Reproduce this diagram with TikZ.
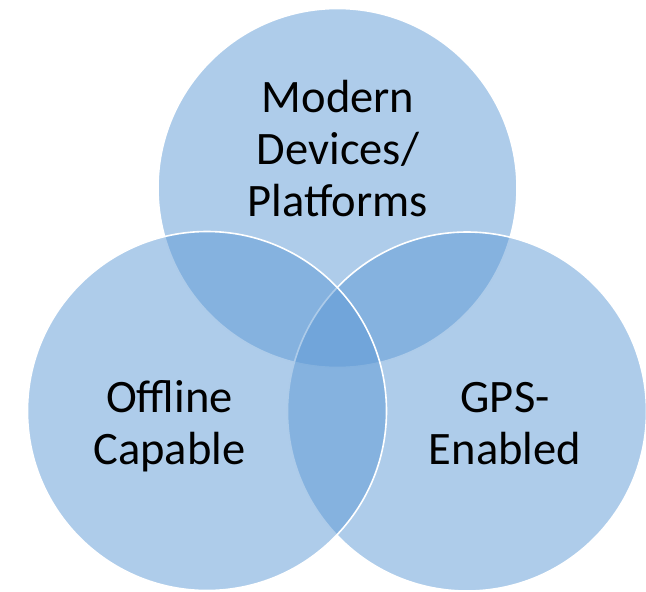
\documentclass[tikz,border=0pt]{standalone}
\usepackage{fontspec}
\setmainfont{Carlito}
\definecolor{vennblue}{RGB}{93,153,213}
\tikzset{
  venn/.style={circle, fill=vennblue, fill opacity=0.5, draw=white, draw opacity=1, line width=1.6pt, inner sep=0pt, minimum size=359pt},
  lbl/.style={align=center, text=black, font=\fontsize{46.5pt}{52pt}\selectfont, inner sep=0pt, anchor=base}
}
\begin{document}
\begin{tikzpicture}[x=1pt,y=-1pt]
\useasboundingbox (0,0) rectangle (646,592);
\node[venn] (top) at (337.5,188) {};
\node[venn] (right) at (467,411.5) {};
\node[venn] (left) at (207,411) {};
\node[lbl] (tlbl) at (338,216.6) {Modern\\Devices/\\Platforms};
\node[lbl] (llbl) at (169.5,464.4) {Offline\\Capable};
\node[lbl] (rlbl) at (505,464.4) {GPS-\\Enabled};
\end{tikzpicture}
\end{document}
